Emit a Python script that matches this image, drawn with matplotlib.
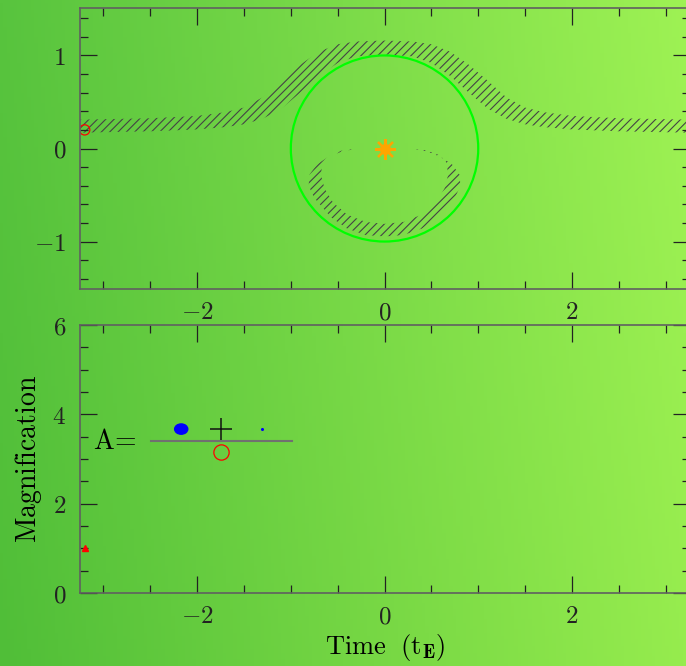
import matplotlib
matplotlib.use('Agg')
import matplotlib.pyplot as plt
import numpy as np
from matplotlib.patches import Circle, Ellipse
from matplotlib.ticker import MultipleLocator, FuncFormatter

plt.rcParams['mathtext.fontset'] = 'cm'
plt.rcParams['hatch.linewidth'] = 0.8

# major image track (band above the lens)
band_x = [-3.25, -2.5, -2.0, -1.7, -1.5, -1.3, -1.1, -0.9, -0.7, -0.5, -0.3, 0.0,
          0.3, 0.5, 0.7, 0.9, 1.1, 1.3, 1.5, 1.7, 2.0, 2.5, 3.25]
band_lo = [0.17, 0.185, 0.205, 0.23, 0.26, 0.32, 0.43, 0.60, 0.78, 0.92, 0.99, 1.01,
           0.99, 0.92, 0.78, 0.60, 0.43, 0.32, 0.26, 0.23, 0.205, 0.185, 0.17]
band_hi = [0.31, 0.325, 0.35, 0.39, 0.44, 0.55, 0.73, 0.90, 1.04, 1.12, 1.15, 1.16,
           1.15, 1.12, 1.04, 0.90, 0.73, 0.55, 0.44, 0.39, 0.35, 0.325, 0.31]

# minor image track (loop inside the ring): outer and inner edges
loop_out_x = [0.28, 0.45, 0.60, 0.72, 0.80, 0.81, 0.75, 0.57, 0.40, 0.20, 0.0,
              -0.20, -0.40, -0.57, -0.75, -0.81, -0.80, -0.72, -0.60, -0.45, -0.28]
loop_out_y = [0.0, -0.03, -0.09, -0.17, -0.28, -0.40, -0.53, -0.74, -0.86, -0.93, -0.945,
              -0.93, -0.86, -0.74, -0.53, -0.40, -0.28, -0.17, -0.09, -0.03, 0.0]
loop_in_x = [0.28, 0.45, 0.58, 0.66, 0.68, 0.64, 0.55, 0.40, 0.20, 0.0,
             -0.20, -0.40, -0.55, -0.64, -0.68, -0.66, -0.58, -0.45, -0.28]
loop_in_y = [0.0, -0.02, -0.07, -0.15, -0.28, -0.43, -0.58, -0.71, -0.79, -0.81,
             -0.79, -0.71, -0.58, -0.43, -0.28, -0.15, -0.07, -0.02, 0.0]

ring_r = 1.0
lens_pos = (0.0, 0.0)
source_pos = (-3.2, 0.2)
source_r = 0.055

# light curve so far
lc_t = [-3.2]
lc_A = [1.0]

fig = plt.figure(figsize=(6.86, 6.66), dpi=100)

# background gradient
bg = fig.add_axes([0, 0, 1, 1], zorder=-10)
tl = np.array([88, 196, 62]) / 255
tr = np.array([158, 242, 84]) / 255
bl = np.array([80, 190, 56]) / 255
br = np.array([150, 236, 78]) / 255
u = np.linspace(0, 1, 200)[None, :, None]
v = np.linspace(0, 1, 200)[:, None, None]
grad = (1 - v) * ((1 - u) * tl + u * tr) + v * ((1 - u) * bl + u * br)
bg.imshow(grad, aspect='auto', extent=[0, 1, 0, 1])
bg.axis('off')

fmt = FuncFormatter(lambda val, pos: r'$%g$' % val)


def style(ax):
    ax.set_facecolor('none')
    for s in ax.spines.values():
        s.set_color('#606060')
        s.set_linewidth(1.2)
    ax.tick_params(which='both', direction='in', top=True, right=True,
                   colors='#222222', labelsize=18, width=0.9)
    ax.tick_params(which='major', length=12)
    ax.tick_params(which='minor', length=6)
    ax.tick_params(axis='y', pad=10)
    ax.tick_params(axis='x', pad=8)
    ax.xaxis.set_major_locator(MultipleLocator(2))
    ax.xaxis.set_minor_locator(MultipleLocator(0.5))
    ax.xaxis.set_major_formatter(fmt)
    ax.yaxis.set_major_formatter(fmt)


# top panel: lens plane
ax1 = fig.add_axes([80 / 686, 1 - 289 / 666, 610 / 686, 281 / 666])
style(ax1)
ax1.set_xlim(-3.25, 3.26)
ax1.set_ylim(-1.51, 1.51)
ax1.yaxis.set_major_locator(MultipleLocator(1))
ax1.yaxis.set_minor_locator(MultipleLocator(0.2))

ax1.fill_between(band_x, band_lo, band_hi, facecolor='none', edgecolor='#444444',
                 linewidth=0, hatch='////')
ax1.fill(loop_out_x + loop_in_x[::-1], loop_out_y + loop_in_y[::-1], facecolor='none',
         edgecolor='#444444', linewidth=0, hatch='////')
ax1.add_patch(Circle(lens_pos, ring_r, fill=False, edgecolor='#00ff00', linewidth=1.6))
ax1.plot(*lens_pos, marker=(8, 2, 0), color='orange', markersize=15, mew=1.6)
ax1.plot(*lens_pos, marker='o', color='orange', markersize=7)
ax1.add_patch(Circle(source_pos, source_r, fill=False, edgecolor='red', linewidth=0.9))

# bottom panel: light curve
ax2 = fig.add_axes([80 / 686, 1 - 593 / 666, 610 / 686, 268 / 666])
style(ax2)
ax2.set_xlim(-3.25, 3.26)
ax2.set_ylim(0, 6)
ax2.yaxis.set_major_locator(MultipleLocator(2))
ax2.yaxis.set_minor_locator(MultipleLocator(0.5))
ax2.plot(lc_t, lc_A, linestyle='none', marker='^', color='red', markersize=5)
ax2.set_ylabel(r'$\mathrm{Magnification}$', fontsize=20, labelpad=6)
ax2.set_xlabel(r'$\mathrm{Time}\ \ (\mathrm{t}_{\mathbf{E}})$', fontsize=19, labelpad=3)

# A = (image areas) / (source area)
ax2.text(-3.11, 3.40, r'$\mathrm{A}\!=$', fontsize=20, va='center', ha='left')
ax2.plot([-2.49, -0.99], [3.40, 3.40], color='#707070', linewidth=1.5)
ax2.add_patch(Ellipse((-2.17, 3.67), 0.14, 0.23, color='blue'))
ax2.plot(-1.74, 3.67, marker='+', color='#111111', markersize=16, mew=1.1)
ax2.plot(-1.31, 3.67, marker='o', color='blue', markersize=1.2)
ax2.plot(-1.74, 3.15, marker='o', mfc='none', mec='red', markersize=11, mew=0.9)

fig.savefig('out.png', dpi=100)
